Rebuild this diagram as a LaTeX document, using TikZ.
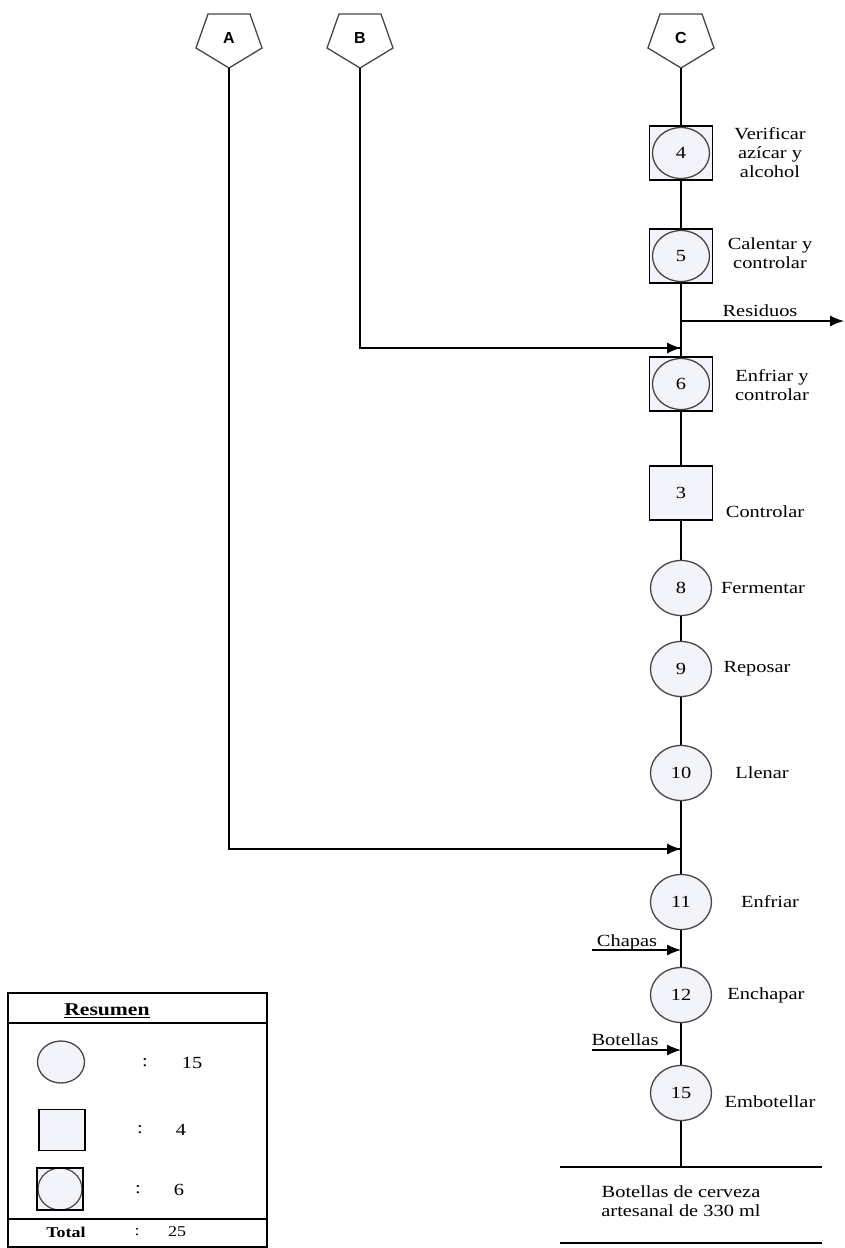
\documentclass[tikz,border=0pt]{standalone}
\usepackage{fontspec}
\setmainfont{Liberation Serif}[FakeStretch=1.2]
\newfontfamily\pentfont{Liberation Sans}
\usetikzlibrary{arrows.meta,shapes.geometric}
\definecolor{procfill}{RGB}{243,243,250}
\definecolor{rimgray}{RGB}{70,70,70}
\tikzset{
  lbl/.style={font=\fontsize{17}{19}\selectfont,align=center,inner sep=0pt},
  opcirc/.style={ellipse,draw=rimgray,line width=1.3pt,fill=procfill,
    minimum width=61pt,minimum height=55pt,inner sep=0pt,
    font=\fontsize{17}{19}\selectfont},
  opbox/.style={rectangle,draw,line width=1.8pt,fill=procfill,
    minimum width=63pt,minimum height=54pt,inner sep=0pt,
    font=\fontsize{17}{19}\selectfont},
  opboth/.style={opbox,path picture={
    \draw[rimgray,line width=1.3pt,fill=procfill]
      (path picture bounding box.center) ellipse (28.5pt and 25.5pt);}},
  flow/.style={line width=1.4pt},
  flowin/.style={flow,-{Latex[length=14pt,width=11pt]}},
  pent/.style={font=\pentfont\bfseries\fontsize{16}{18}\selectfont,inner sep=0pt}
}
\newcommand{\pentagon}[2]{% center x, name
  \draw[line width=1.3pt,rimgray] (#1-21,14) -- (#1+21,14) -- (#1+33,48)
    -- (#1,68) -- (#1-33,48) -- cycle;
  \coordinate (#2) at (#1,68);
}
\begin{document}
\begin{tikzpicture}[x=1pt,y=-1pt]
\useasboundingbox (0,0) rectangle (844,1248);
% connectors
\pentagon{229}{pA}
\pentagon{360}{pB}
\pentagon{681}{pC}
\node[pent] (tA) at (229,38) {A};
\node[pent] (tB) at (360,38) {B};
\node[pent] (tC) at (681,38) {C};
% points on the main line
\coordinate (res) at (681,321);
\coordinate (resEnd) at (844,321);
\coordinate (inB) at (681,348);
\coordinate (inA) at (681,849);
\coordinate (inCh) at (681,950);
\coordinate (srcCh) at (592,950);
\coordinate (inBo) at (681,1050);
\coordinate (srcBo) at (592,1050);
\coordinate (fin) at (681,1167);
% main line first, nodes on top
\draw[flow] (pC) -- (fin);
\draw[flow] (pB) |- (inB);
\draw[flowin] (pB |- inB) -- (inB);
\draw[flow] (pA) |- (inA);
\draw[flowin] (pA |- inA) -- (inA);
\draw[flowin] (res) -- (resEnd);
\draw[flowin] (srcCh) -- (inCh);
\draw[flowin] (srcBo) -- (inBo);
% operations
\node[opboth] (n4) at (681,153) {4};
\node[opboth] (n5) at (681,256) {5};
\node[opboth] (n6) at (681,384) {6};
\node[opbox] (n3) at (681,493) {3};
\node[opcirc] (n8) at (681,588) {8};
\node[opcirc] (n9) at (681,669) {9};
\node[opcirc] (n10) at (681,773) {10};
\node[opcirc] (n11) at (681,902) {11};
\node[opcirc] (n12) at (681,995) {12};
\node[opcirc] (n15) at (681,1093) {15};
% labels
\node[lbl] (l4) at (770,153) {Verificar\\azícar y\\alcohol};
\node[lbl] (l5) at (770,253) {Calentar y\\controlar};
\node[lbl] (lres) at (760,311) {Residuos};
\node[lbl] (l6) at (772,385) {Enfriar y\\controlar};
\node[lbl] (l3) at (765,512) {Controlar};
\node[lbl] (l8) at (763,588) {Fermentar};
\node[lbl] (l9) at (757,669) {Reposar};
\node[lbl] (l10) at (762,773) {Llenar};
\node[lbl] (l11) at (770,902) {Enfriar};
\node[lbl] (lch) at (627,942) {Chapas};
\node[lbl] (l12) at (766,995) {Enchapar};
\node[lbl] (lbo) at (625,1040) {Botellas};
\node[lbl] (l15) at (770,1102) {Embotellar};
% product
\draw[flow] (560,1167) -- (822,1167);
\draw[flow] (560,1243) -- (822,1243);
\node[lbl] (prod) at (681,1201) {Botellas de cerveza\\artesanal de 330 ml};
% summary
\draw[line width=1.5pt] (8,993) rectangle (267,1247);
\draw[line width=1.2pt] (8,1023) -- (267,1023);
\draw[line width=1.2pt] (8,1219) -- (267,1219);
\node[lbl,font=\bfseries\fontsize{18}{20}\selectfont] (sumT) at (107,1011) {\underline{Resumen}};
\node[opcirc,minimum width=47pt,minimum height=42pt] (sC) at (61,1062) {};
\node[opbox,minimum width=46pt,minimum height=41pt,line width=1.5pt] (sB) at (62,1130) {};
\node[opbox,minimum width=46pt,minimum height=42pt,line width=1.5pt,path picture={
    \draw[rimgray,line width=1.2pt,fill=procfill]
      (path picture bounding box.center) ellipse (22pt and 21pt);}] (sBC) at (60,1189) {};
\node[lbl] (c1) at (145,1063) {:};
\node[lbl] (v1) at (192,1063) {15};
\node[lbl] (c2) at (140,1130) {:};
\node[lbl] (v2) at (181,1130) {4};
\node[lbl] (c3) at (138,1190) {:};
\node[lbl] (v3) at (179,1190) {6};
\node[lbl,font=\bfseries\fontsize{15}{17}\selectfont] (tot) at (66,1232) {Total};
\node[lbl,font=\fontsize{15}{17}\selectfont] (c4) at (137,1232) {:};
\node[lbl,font=\fontsize{15}{17}\selectfont] (v4) at (177,1232) {25};
\end{tikzpicture}
\end{document}
